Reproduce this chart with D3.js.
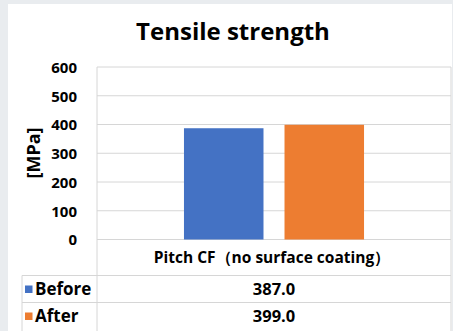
<!DOCTYPE html>
<html>
<head>
<meta charset="utf-8">
<script src="https://cdn.jsdelivr.net/npm/d3@7"></script>
<style>
  html, body { margin: 0; padding: 0; background: #e9ecef; }
  svg { display: block; }
  text { font-family: "Open Sans", "Noto Sans", sans-serif; font-weight: bold; fill: #000; }
</style>
</head>
<body>
<script>
// Chart data
const title = "Tensile strength";
const yLabel = "[MPa]";
const categories = ["Pitch CF（no surface coating）"];
const seriesNames = ["Before", "After"];
const beforeValues = [387.0];
const afterValues = [399.0];
const yTicks = [0, 100, 200, 300, 400, 500, 600];
const seriesColors = ["#4472C4", "#ED7D31"];

const seriesValues = [beforeValues, afterValues];

const W = 453, H = 331;
const svg = d3.select("body").append("svg").attr("width", W).attr("height", H);

// white chart panel
svg.append("rect").attr("x", 8).attr("y", 4).attr("width", W - 9).attr("height", H - 4).attr("fill", "#fff");

const plot = { left: 97, right: 451, top: 67, bottom: 239.5 };
const rowH = 27;
const tableTop = 275.5;
const tableLeft = 22;

const y = d3.scaleLinear().domain([0, 600]).range([plot.bottom, plot.top]);
const x0 = d3.scaleBand().domain(categories).range([plot.left, plot.right]).paddingInner(0).paddingOuter(0.483);
const x1 = d3.scaleBand().domain(seriesNames).range([0, x0.bandwidth()]).paddingInner(0.209).paddingOuter(0);

const lineColor = "#d6d6d6";

// gridlines
svg.append("g").selectAll("line").data(yTicks).join("line")
  .attr("x1", plot.left).attr("x2", plot.right)
  .attr("y1", d => y(d)).attr("y2", d => y(d))
  .attr("stroke", lineColor).attr("stroke-width", 1);

// y-axis tick labels
const yAxis = d3.axisLeft(y).tickValues(yTicks).tickSize(0).tickPadding(0);
const gy = svg.append("g").attr("transform", `translate(77,0)`).call(yAxis)
  .attr("font-size", null).attr("font-family", null).attr("fill", null);
gy.select(".domain").remove();
gy.selectAll("text").attr("fill", "#000").style("font-size", "15px").attr("dy", "0.35em");

// y-axis title
svg.append("text").attr("transform", `translate(40,153) rotate(-90)`)
  .attr("text-anchor", "middle").style("font-size", "18px").text(yLabel);

// title
svg.append("text").attr("x", 233).attr("y", 40).attr("text-anchor", "middle")
  .style("font-size", "24px").text(title);

// bars
categories.forEach((c, ci) => {
  svg.append("g").selectAll("rect").data(seriesNames).join("rect")
    .attr("x", s => x0(c) + x1(s))
    .attr("width", x1.bandwidth())
    .attr("y", (s, si) => y(seriesValues[si][ci]))
    .attr("height", (s, si) => y(0) - y(seriesValues[si][ci]))
    .attr("fill", (s, si) => seriesColors[si]);
});

// data table frame
const tbl = svg.append("g").attr("stroke", lineColor).attr("stroke-width", 1);
tbl.append("line").attr("x1", plot.left).attr("x2", plot.left).attr("y1", plot.top).attr("y2", H);
tbl.append("line").attr("x1", plot.right).attr("x2", plot.right).attr("y1", plot.top).attr("y2", H);
tbl.append("line").attr("x1", tableLeft).attr("x2", tableLeft).attr("y1", tableTop).attr("y2", H);
seriesNames.forEach((s, i) => {
  tbl.append("line").attr("x1", tableLeft).attr("x2", plot.right)
    .attr("y1", tableTop + i * rowH).attr("y2", tableTop + i * rowH);
});

// category header
categories.forEach(c => {
  svg.append("text").attr("x", x0(c) + x0.bandwidth() / 2 - 2).attr("y", (plot.bottom + tableTop) / 2)
    .attr("dy", "0.35em").attr("text-anchor", "middle").style("font-size", "15.5px").text(c);
});

// table rows: legend key, series name, values
seriesNames.forEach((s, i) => {
  const cy = tableTop + i * rowH + rowH / 2;
  svg.append("rect").attr("x", 25).attr("y", cy - 3.5).attr("width", 7.5).attr("height", 7.5)
    .attr("fill", seriesColors[i]);
  svg.append("text").attr("x", 35).attr("y", cy).attr("dy", "0.35em")
    .style("font-size", "17px").text(s);
  categories.forEach((c, ci) => {
    svg.append("text").attr("x", x0(c) + x0.bandwidth() / 2).attr("y", cy).attr("dy", "0.35em")
      .attr("text-anchor", "middle").style("font-size", "16.5px")
      .text(seriesValues[i][ci].toFixed(1));
  });
});
</script>
</body>
</html>
